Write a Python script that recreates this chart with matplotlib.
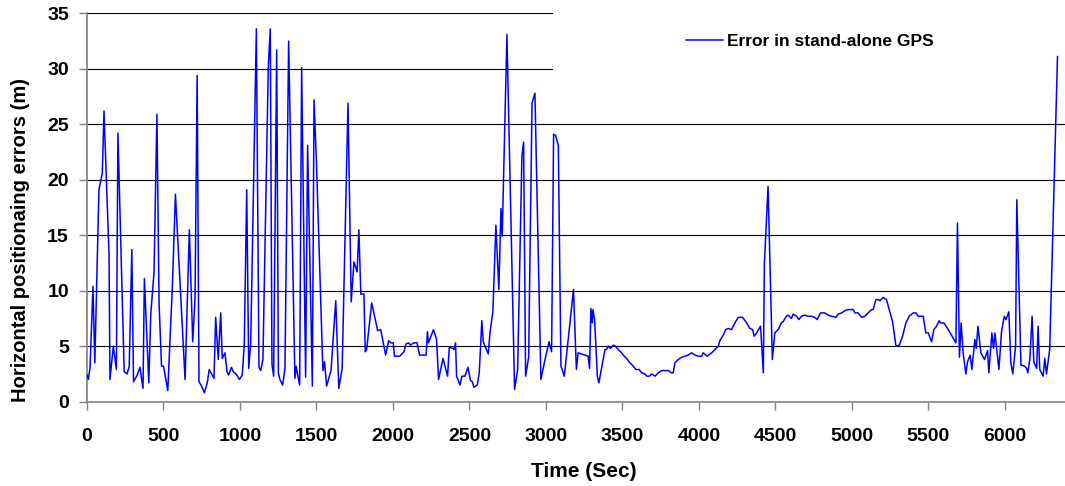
import numpy as np
import pandas as pd
import matplotlib
matplotlib.use('Agg')
import matplotlib.pyplot as plt
import matplotlib.patches as mpatches

# time stamps (sec)
time_sec = [
    0, 9, 20, 39, 51, 78, 100, 111, 144, 150, 172, 192, 202, 233, 243, 262, 276, 293, 304, 325,
    346, 366, 375, 404, 417, 438, 457, 471, 487, 500, 528, 558, 578, 641, 669, 691, 706, 720, 732, 749,
    767, 786, 799, 830, 841, 858, 874, 884, 902, 915, 926, 944, 956, 974, 996, 1015, 1028, 1044, 1057, 1070,
    1107, 1124, 1135, 1150, 1185, 1198, 1209, 1220, 1240, 1251, 1261, 1279, 1294, 1318, 1359, 1368, 1376, 1390, 1403, 1429,
    1442, 1473, 1484, 1500, 1542, 1553, 1566, 1595, 1626, 1646, 1668, 1706, 1727, 1745, 1766, 1777, 1790, 1810, 1819, 1828,
    1861, 1900, 1920, 1952, 1972, 1987, 2002, 2010, 2045, 2072, 2085, 2103, 2113, 2137, 2157, 2174, 2217, 2225, 2232, 2265,
    2285, 2298, 2327, 2357, 2368, 2394, 2400, 2409, 2416, 2438, 2451, 2470, 2490, 2507, 2518, 2529, 2551, 2564, 2581, 2590,
    2623, 2634, 2653, 2673, 2692, 2706, 2714, 2745, 2795, 2815, 2843, 2854, 2867, 2887, 2909, 2928, 2967, 2991, 3020, 3037,
    3050, 3063, 3081, 3098, 3120, 3180, 3199, 3210, 3276, 3285, 3294, 3303, 3307, 3318, 3336, 3346, 3386, 3396, 3407, 3422,
    3440, 3455, 3473, 3495, 3505, 3527, 3549, 3571, 3588, 3610, 3625, 3647, 3658, 3676, 3691, 3713, 3735, 3756, 3778, 3800,
    3821, 3832, 3843, 3865, 3887, 3909, 3930, 3952, 3974, 3996, 4018, 4028, 4054, 4083, 4105, 4126, 4137, 4159, 4176, 4191,
    4213, 4235, 4257, 4285, 4307, 4333, 4351, 4361, 4377, 4403, 4421, 4428, 4452, 4480, 4496, 4518, 4539, 4550, 4572, 4583,
    4605, 4616, 4638, 4653, 4670, 4692, 4714, 4736, 4757, 4773, 4795, 4823, 4845, 4867, 4896, 4911, 4933, 4954, 4976, 5009,
    5020, 5041, 5063, 5085, 5107, 5128, 5139, 5157, 5172, 5183, 5205, 5226, 5248, 5266, 5288, 5310, 5331, 5353, 5375, 5401,
    5418, 5434, 5466, 5483, 5499, 5521, 5536, 5553, 5571, 5579, 5601, 5630, 5651, 5680, 5690, 5703, 5714, 5727, 5745, 5756,
    5773, 5784, 5804, 5813, 5824, 5843, 5867, 5887, 5895, 5915, 5926, 5935, 5961, 5978, 5996, 6007, 6026, 6039, 6052, 6070,
    6078, 6105, 6129, 6142, 6150, 6163, 6178, 6189, 6208, 6217, 6228, 6250, 6261, 6272, 6293, 6344,
]

# horizontal error (m) at those times
gps_error = [
    2.4, 2.0, 3.1, 10.4, 3.5, 19.1, 20.6, 26.2, 13.2, 2.0, 5.0, 2.9, 24.2, 7.7, 2.7, 2.5, 3.2, 13.7, 1.8, 2.3,
    3.1, 1.2, 11.1, 1.7, 8.0, 11.6, 25.9, 8.9, 3.2, 3.2, 1.0, 10.4, 18.7, 2.0, 15.5, 5.4, 9.2, 29.4, 1.8, 1.4,
    0.8, 1.7, 2.9, 2.1, 7.6, 3.8, 8.0, 3.9, 4.4, 2.7, 2.4, 3.1, 2.7, 2.5, 2.0, 2.4, 5.2, 19.1, 3.0, 5.2,
    33.6, 3.1, 2.8, 3.8, 30.2, 33.6, 3.4, 2.3, 31.7, 2.6, 2.0, 1.5, 3.0, 32.5, 2.1, 3.2, 2.5, 1.5, 30.1, 2.2,
    23.1, 1.4, 27.2, 21.5, 2.8, 3.6, 1.4, 2.8, 9.1, 1.2, 3.0, 26.9, 9.0, 12.6, 11.7, 15.5, 9.7, 9.7, 4.5, 4.7,
    8.9, 6.4, 6.5, 4.2, 5.5, 5.3, 5.3, 4.1, 4.1, 4.5, 5.2, 5.3, 5.1, 5.3, 5.3, 4.2, 4.2, 6.3, 5.3, 6.5,
    5.6, 2.0, 3.9, 2.3, 4.9, 4.8, 4.7, 5.3, 2.3, 1.5, 2.3, 2.3, 3.1, 1.9, 1.8, 1.3, 1.5, 2.6, 7.3, 5.4,
    4.3, 6.2, 8.1, 15.9, 10.1, 17.4, 14.9, 33.1, 1.1, 2.9, 22.2, 23.4, 2.3, 4.0, 26.9, 27.8, 2.0, 3.6, 5.4, 4.5,
    24.1, 24.0, 23.1, 3.2, 2.3, 10.1, 2.9, 4.4, 4.1, 3.0, 8.4, 7.1, 8.3, 7.4, 2.3, 1.7, 4.7, 4.7, 5.0, 4.8,
    5.1, 5.0, 4.7, 4.4, 4.2, 3.9, 3.5, 3.2, 2.9, 2.9, 2.6, 2.5, 2.3, 2.3, 2.5, 2.3, 2.6, 2.8, 2.8, 2.8,
    2.6, 2.6, 3.5, 3.8, 4.0, 4.1, 4.2, 4.4, 4.2, 4.1, 4.1, 4.4, 4.1, 4.4, 4.7, 5.0, 5.5, 6.0, 6.5, 6.6,
    6.5, 7.1, 7.6, 7.6, 7.2, 6.6, 6.5, 5.9, 6.2, 6.8, 2.6, 12.5, 19.4, 3.8, 6.2, 6.5, 7.1, 7.2, 7.7, 7.8,
    7.5, 7.9, 7.7, 7.4, 7.7, 7.8, 7.7, 7.7, 7.6, 7.4, 8.0, 8.0, 7.8, 7.7, 7.6, 7.9, 8.0, 8.2, 8.3, 8.3,
    8.0, 8.0, 7.6, 7.7, 8.0, 8.3, 8.3, 9.2, 9.2, 9.1, 9.4, 9.2, 8.1, 7.2, 5.0, 5.1, 5.9, 7.1, 7.7, 8.0,
    8.0, 7.7, 7.7, 6.2, 6.2, 5.4, 6.5, 6.8, 7.3, 7.1, 7.1, 6.5, 6.0, 5.3, 16.1, 4.0, 7.1, 4.4, 2.5, 3.6,
    4.2, 2.9, 5.6, 4.8, 6.8, 4.4, 3.8, 4.6, 2.6, 6.2, 4.8, 6.2, 2.9, 6.3, 7.7, 7.4, 8.1, 3.5, 2.5, 5.0,
    18.2, 3.3, 3.2, 3.0, 2.6, 3.8, 7.7, 3.6, 3.0, 6.8, 2.9, 2.3, 3.9, 2.5, 4.7, 31.1,
]

x_ticks = list(range(0, 6001, 500))
y_ticks = list(range(0, 36, 5))

series_name = 'Error in stand-alone GPS'
x_title = 'Time (Sec)'
y_title = 'Horizontal positionaing errors (m)'


def drawErrorGraph(data):
    plt.rcParams['font.family'] = ['Liberation Sans', 'DejaVu Sans']
    plt.rcParams['font.weight'] = 'bold'

    fig = plt.figure(figsize=(10.65, 4.86), dpi=100)
    ax = fig.add_axes([0.0817, 0.1735, 0.9193, 0.7991])

    ax.plot(data.time, data.error, color='#0000ff', linewidth=1.1, zorder=3, label=series_name)

    ax.set_xlim(0, 6400)
    ax.set_ylim(0, 35)
    ax.set_xticks(x_ticks)
    ax.set_yticks(y_ticks)
    ax.tick_params(axis='x', direction='out', length=6, width=1, color='#808080',
                   labelsize=14, pad=13)
    ax.tick_params(axis='y', direction='out', length=6, width=1, color='#808080',
                   labelsize=14, pad=7)
    for lab in ax.get_xticklabels() + ax.get_yticklabels():
        lab.set_fontweight('bold')

    ax.set_axisbelow(True)
    ax.yaxis.grid(True, color='black', linewidth=0.8)
    ax.xaxis.grid(False)

    for side in ['top', 'right']:
        ax.spines[side].set_visible(False)
    for side in ['left', 'bottom']:
        ax.spines[side].set_color('#808080')
        ax.spines[side].set_linewidth(1.2)

    # white legend area (hides the top grid lines like the original)
    ax.add_patch(mpatches.Rectangle((0.476, 0.823), 0.6, 0.2, transform=ax.transAxes,
                                    facecolor='white', edgecolor='none', zorder=1))

    leg = ax.legend(loc='center left', bbox_to_anchor=(0.612, 0.9287), frameon=False,
                    borderpad=0, borderaxespad=0, handlelength=2.1, handletextpad=0.25,
                    prop={'size': 12.5, 'weight': 'bold'})
    leg.set_zorder(4)

    ax.set_xlabel(x_title, fontsize=15, fontweight='bold', va='center')
    ax.xaxis.set_label_coords(0.507, -0.181)
    ax.set_ylabel(y_title, fontsize=14.5, fontweight='bold', va='center')
    ax.yaxis.set_label_coords(-0.0675, 0.416)

    fig.savefig('out.png', dpi=100)


if __name__ == "__main__":
    errData = pd.DataFrame({'time': time_sec, 'error': gps_error})
    drawErrorGraph(errData)
